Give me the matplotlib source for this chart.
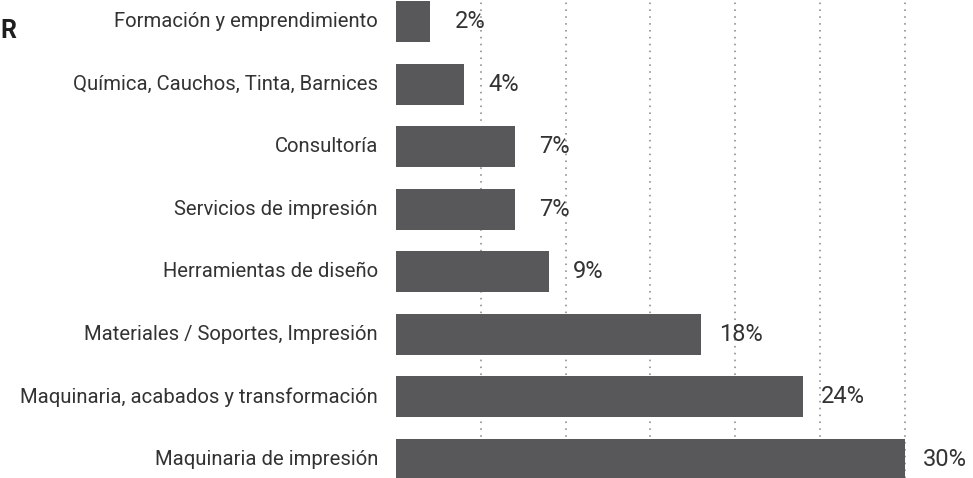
import matplotlib
matplotlib.use("Agg")
import matplotlib.pyplot as plt
from matplotlib.transforms import offset_copy

categories = [
    "Formación y emprendimiento",
    "Química, Cauchos, Tinta, Barnices",
    "Consultoría",
    "Servicios de impresión",
    "Herramientas de diseño",
    "Materiales / Soportes, Impresión",
    "Maquinaria, acabados y transformación",
    "Maquinaria de impresión",
]
values = [2, 4, 7, 7, 9, 18, 24, 30]
value_labels = ["2%", "4%", "7%", "7%", "9%", "18%", "24%", "30%"]
grid_ticks = [5, 10, 15, 20, 25, 30]

W, H, DPI = 973, 478, 100
fig = plt.figure(figsize=(W / DPI, H / DPI), dpi=DPI)
fig.patch.set_facecolor("white")

ax_left = 396 / W
ax = fig.add_axes([ax_left, 0, 1 - ax_left, 1])
ax.set_facecolor("none")

bar_color = "#58585a"
text_color = "#333333"
font = "Roboto"

ypos = list(range(len(categories)))
ax.barh(ypos, values, height=0.655, color=bar_color, zorder=2)

for g in grid_ticks:
    ax.axvline(g, color="#8a8a8a", linewidth=1.15, linestyle=(0, (1, 3.3)), zorder=1)

ax.set_xlim(0, 577 / 16.96)
ax.set_ylim(7.296, -0.344)
ax.axis("off")

# value labels: centered ~40px right of bar end
for y, v, lab in zip(ypos, values, value_labels):
    tr = offset_copy(ax.transData, fig=fig, x=40, y=0, units="dots")
    ax.text(v, y, lab, transform=tr, ha="center", va="center",
            fontsize=17, color=text_color, family=font)

# category labels: right aligned ~18px left of bar start
for y, c in zip(ypos, categories):
    tr = offset_copy(ax.transData, fig=fig, x=-18, y=0, units="dots")
    ax.text(0, y, c, transform=tr, ha="right", va="center",
            fontsize=14.6, color=text_color, family=font)

# title fragment at left
fig.text(0.5 / W, 1 - 31.5 / H, "R", ha="left", va="center",
         fontsize=18, fontweight="bold", color="#1e1e1e", family=font)

fig.savefig("out.png", dpi=DPI)
